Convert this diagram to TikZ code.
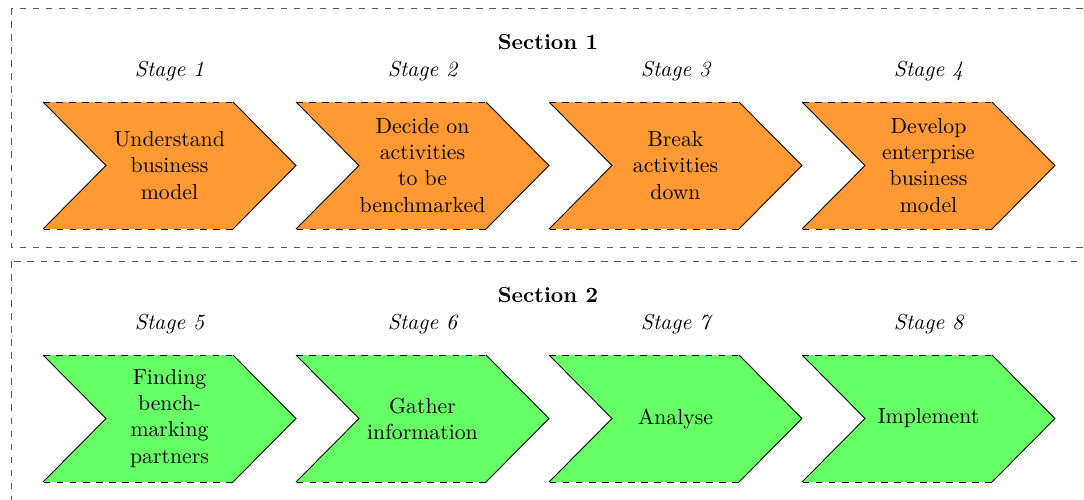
\documentclass[tikz,border=0pt]{standalone}
\begin{document}
\begin{tikzpicture}[x=0.46pt,y=-0.46pt,
  frame/.style={draw=black!65, dashed, line width=0.4pt},
  sectiontitle/.style={font=\bfseries},
  stagelabel/.style={font=\itshape},
  body/.style={align=center, text width=60pt, inner sep=0pt},
  rim/.style={draw=black, line width=0.4pt},
]
% chevron: name, left x, top y, fill, text
\newcommand\chev[5]{%
  \fill[#4] (#2,#3) -- ++(190,0) -- ++(63,63.5) -- ++(-63,63.5) -- ++(-190,0) -- ++(63,-63.5) -- cycle;
  \draw[rim, dashed] (#2,#3) -- ++(190,0);
  \draw[rim] (#2+190,#3) -- ++(63,63.5) -- ++(-63,63.5);
  \draw[rim, dashed] (#2+190,#3+127) -- ++(-190,0);
  \draw[rim] (#2,#3+127) -- ++(63,-63.5) -- (#2,#3);
  \node[body] (#1) at (#2+126.5,#3+63.5) {#5};
}
\useasboundingbox (0,0) rectangle (1084,499);
\begin{scope}
  \clip (0,0) rectangle (1084,499);
  \draw[frame] (11,8) rectangle (1110,247);
  \draw[frame] (11,261) rectangle (1110,530);
\end{scope}

% first section
\node[sectiontitle] (sec1) at (548,42) {Section 1};
\node[stagelabel] (s1) at (169.5,71) {Stage 1};
\node[stagelabel] (s2) at (422.5,71) {Stage 2};
\node[stagelabel] (s3) at (675.5,71) {Stage 3};
\node[stagelabel] (s4) at (928.5,71) {Stage 4};
\chev{c1}{43}{102}{orange!80}{Understand\\business\\model}
\chev{c2}{296}{102}{orange!80}{Decide on activities to be benchmarked}
\chev{c3}{549}{102}{orange!80}{Break activities down}
\chev{c4}{802}{102}{orange!80}{Develop enterprise business model}

% second section
\node[sectiontitle] (sec2) at (548,295) {Section 2};
\node[stagelabel] (s5) at (169.5,324) {Stage 5};
\node[stagelabel] (s6) at (422.5,324) {Stage 6};
\node[stagelabel] (s7) at (675.5,324) {Stage 7};
\node[stagelabel] (s8) at (928.5,324) {Stage 8};
\chev{c5}{43}{355}{green!60}{Finding benchmarking partners}
\chev{c6}{296}{355}{green!60}{Gather information}
\chev{c7}{549}{355}{green!60}{Analyse}
\chev{c8}{802}{355}{green!60}{Implement}
\end{tikzpicture}
\end{document}
